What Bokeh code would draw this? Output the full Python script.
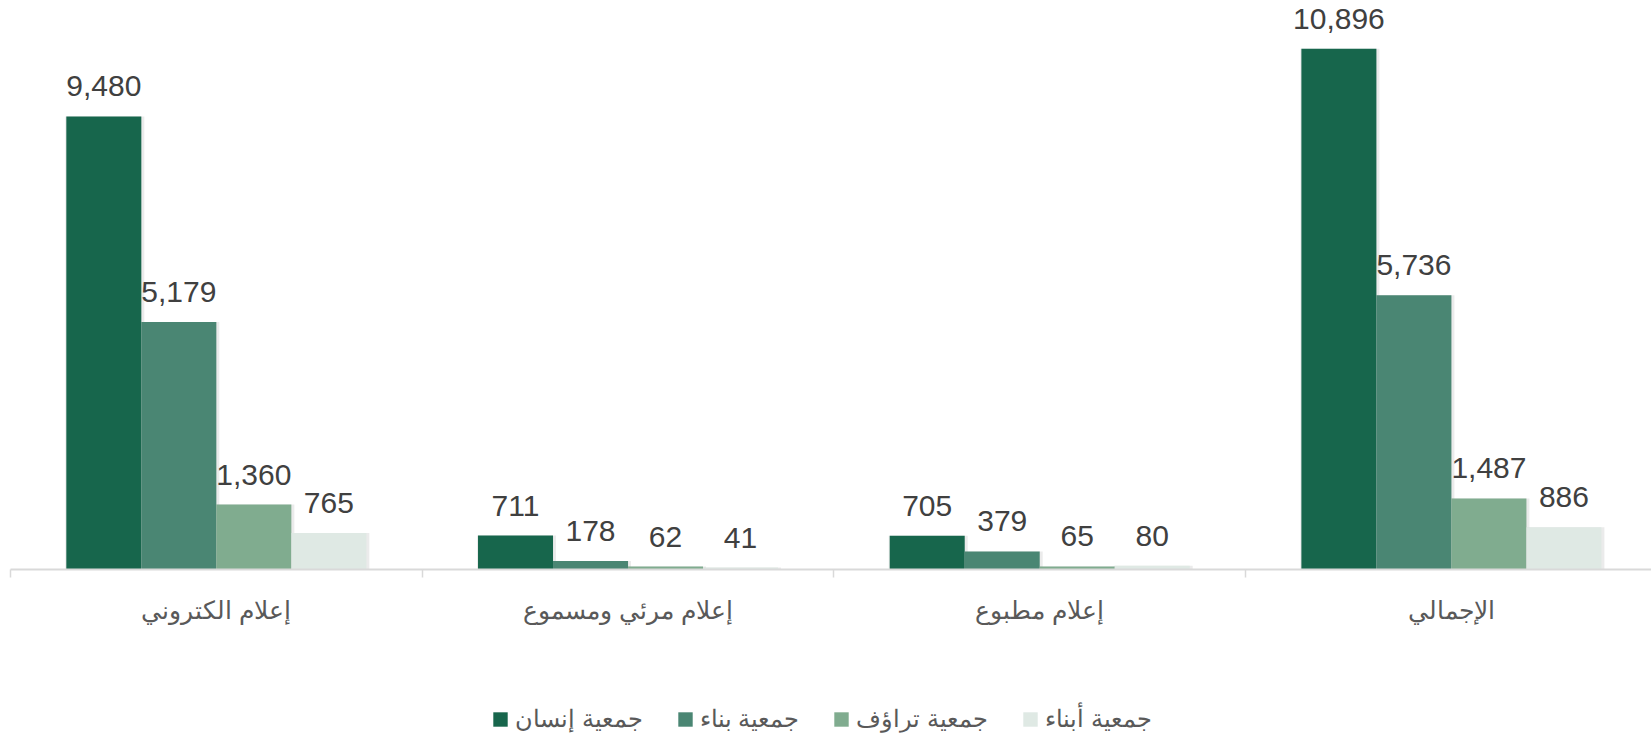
from bokeh.plotting import figure
from bokeh.layouts import column
from bokeh.models import Range1d, FixedTicker, ColumnDataSource, Legend, LegendItem
from bokeh.transform import dodge
from bokeh.embed import file_html
from bokeh.resources import INLINE
from bokeh.core.properties import value

# ---- data ----
categories = ["إعلام الكتروني", "إعلام مرئي ومسموع", "إعلام مطبوع", "الإجمالي"]
series_names = ["جمعية إنسان", "جمعية بناء", "جمعية تراؤف", "جمعية أبناء"]
insan = [9480, 711, 705, 10896]
binaa = [5179, 178, 379, 5736]
taraof = [1360, 62, 65, 1487]
abnaa = [765, 41, 80, 886]

# ---- styling ----
colors = ["#17664c", "#4a8673", "#80ac8f", "#dfe9e4"]
keys = ["insan", "binaa", "taraof", "abnaa"]
series_vals = [insan, binaa, taraof, abnaa]
bar_w = 0.1822
offsets = [-1.5 * bar_w, -0.5 * bar_w, 0.5 * bar_w, 1.5 * bar_w]
px = 1 / 411.7  # one pixel in x data units

data = {"x": [i + 0.5 for i in range(len(categories))]}
for k, v in zip(keys, series_vals):
    data[k] = v
    data[k + "_lbl"] = [f"{n:,}" for n in v]
src = ColumnDataSource(data)

p = figure(
    output_backend="svg", toolbar_location=None,
    width=1651, height=700,
    x_range=Range1d(0, 3.986), y_range=Range1d(0, 11906),
    y_axis_location=None,
    min_border_left=10, min_border_right=0, min_border_top=0, min_border_bottom=131,
    outline_line_color=None,
)
p.grid.visible = False

# soft shadow behind the bars
for i, k in enumerate(keys):
    p.vbar(x=dodge("x", offsets[i] + 1.0 * px, range=p.x_range), top=k,
           width=bar_w + 4 * px, bottom=0, source=src,
           fill_color="#000000", fill_alpha=0.08, line_color=None)

renderers = []
for i, k in enumerate(keys):
    r = p.vbar(x=dodge("x", offsets[i], range=p.x_range), top=k, width=bar_w,
               bottom=0, source=src, fill_color=colors[i], line_color=None)
    renderers.append(r)
    p.text(x=dodge("x", offsets[i], range=p.x_range), y=k, text=k + "_lbl", source=src,
           text_align="center", text_baseline="alphabetic", y_offset=-30,
           text_font=value("Liberation Sans"), text_font_size="30px",
           text_color="#404040")

ax = p.xaxis[0]
ax.ticker = FixedTicker(ticks=[i + 0.5 for i in range(len(categories))],
                        minor_ticks=list(range(len(categories) + 1)))
ax.major_label_overrides = {i + 0.5: c for i, c in enumerate(categories)}
ax.major_tick_line_color = None
ax.major_tick_in = 0
ax.major_tick_out = 0
ax.minor_tick_in = 0
ax.minor_tick_out = 8
ax.minor_tick_line_color = "#d9d9d9"
ax.minor_tick_line_width = 1.5
ax.axis_line_color = "#d9d9d9"
ax.axis_line_width = 2
ax.major_label_standoff = 18
ax.major_label_text_font = "Liberation Sans"
ax.major_label_text_font_size = "25px"
ax.major_label_text_color = "#595959"

# ---- legend strip (its bars are hidden; only the legend shows) ----
pl = figure(
    output_backend="svg", toolbar_location=None,
    width=1651, height=37,
    x_range=Range1d(0, 3.986), y_range=Range1d(0, 11906),
    x_axis_location=None, y_axis_location=None,
    min_border_left=0, min_border_right=0, min_border_top=0, min_border_bottom=0,
    outline_line_color=None,
)
pl.grid.visible = False
leg_renderers = [pl.vbar(x="x", top=k, width=bar_w, source=src,
                         fill_color=c, line_color=None, visible=False)
                 for k, c in zip(keys, colors)]
legend = Legend(
    items=[LegendItem(label=n, renderers=[r]) for n, r in zip(series_names, leg_renderers)],
    orientation="horizontal", location=(481, 4),
    glyph_width=18, glyph_height=18, label_standoff=6, spacing=33,
    label_text_font="Liberation Sans", label_text_font_size="24px",
    label_text_color="#595959", border_line_color=None, background_fill_alpha=0,
    inactive_fill_alpha=0,
    padding=0, margin=0,
)
pl.add_layout(legend, "center")

open("out.html", "w").write(file_html(column(p, pl, spacing=0), INLINE))
